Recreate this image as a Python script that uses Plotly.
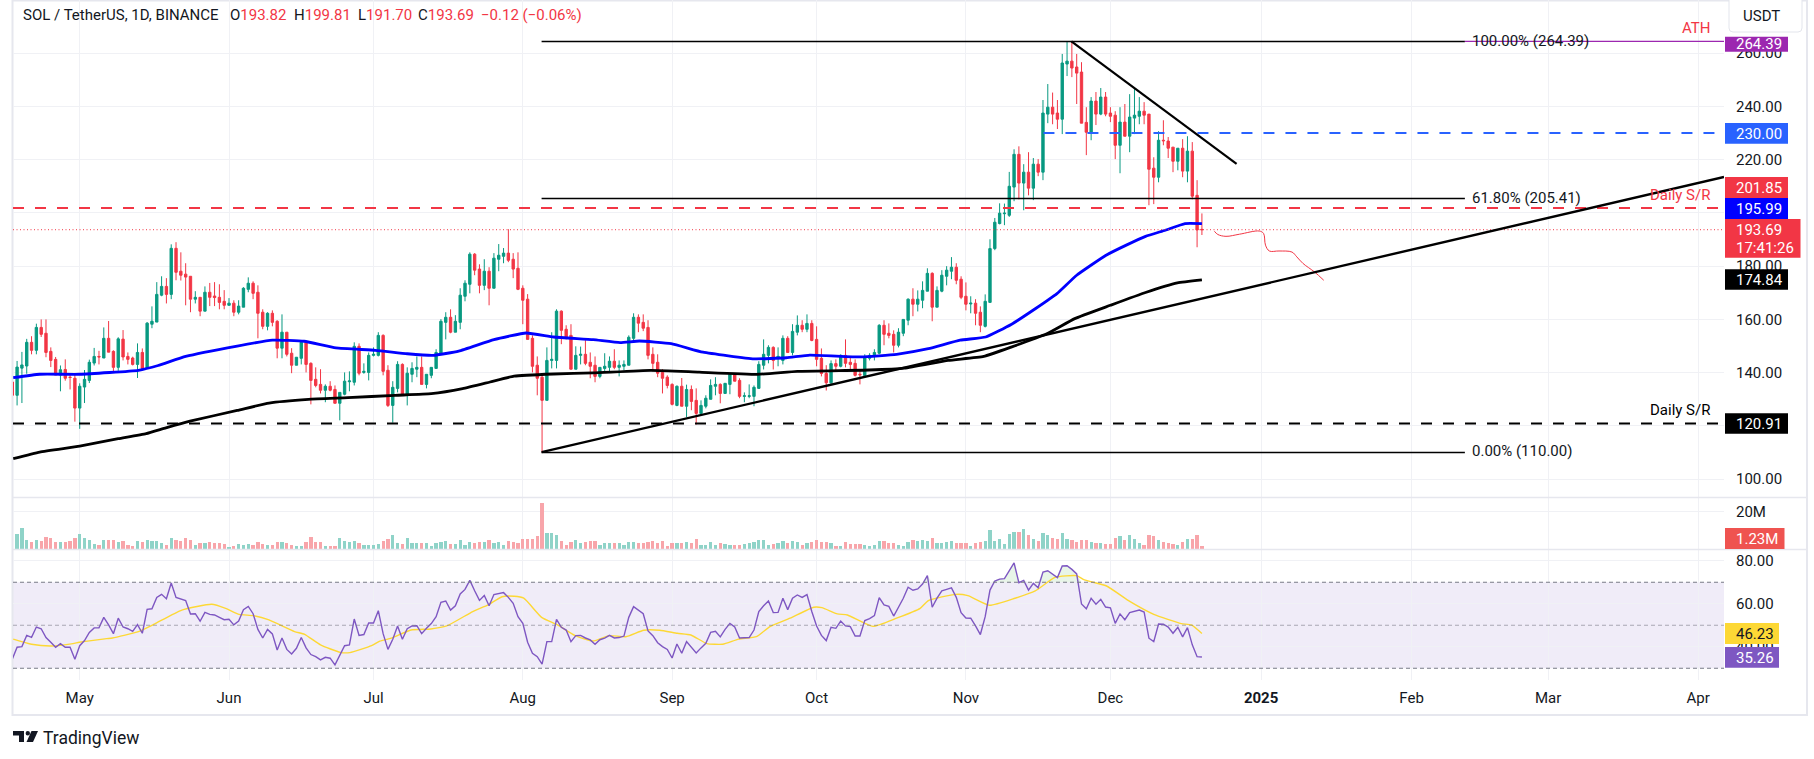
import pandas as pd
import numpy as np
import plotly.graph_objects as go

W, H = 1814, 759
BASE = pd.Timestamp("2024-05-01")
FONT = "Roboto"
INK = "#131722"
RED = "#f23645"
GREEN = "#089981"

first_day = -14
opens = [136.5,
 131.5,141.7,142.5,151.4,148.4,157,154.8,148,145,
 139.1,141.2,138.3,137.9,126.7,134.6,137.1,143.6,146.1,145.5,
 152.9,148,142,152.6,146.1,145.5,143.1,147.6,141.6,158.2,
 159,169.1,172.4,169.4,186.7,178.1,177,176.2,167.6,168.3,
 163.1,170.2,168.8,168.3,166.8,165.3,166.1,162.7,164.6,171.3,
 173.6,170.2,162.7,157.4,162.3,159.3,149.2,155.2,147.3,142.8,
 145.4,151.4,143.5,137.5,135.6,133.4,134.9,133.7,128.5,131.9,
 136.6,136.4,149.9,140.1,140.1,146.5,146.5,154,140.9,127.7,
 134.1,143.1,131.5,139.4,141.3,142,135.6,139,141.6,147.3,
 158.9,160.8,155.2,158.9,168.7,173.2,184.5,178.9,172.8,178.1,
 171.7,182.6,183.7,184.9,182.6,179.2,171.7,167.6,152.9,142.8,
 138.3,129.6,144.6,144.6,163.1,156.3,154,141.3,146.5,146.9,
 143.9,142.8,138.6,141.6,142,144.3,142,142.4,142.8,152.9,
 160.8,158.9,157,146.9,143.9,140.1,138.3,135.6,127.7,134.9,
 127.4,133.7,129.6,124.7,127.4,130,134.9,135.6,132.2,135.6,
 139.4,137.1,131.1,131.1,131.1,134.1,142.8,146.5,149.5,145.8,
 144.6,152.9,147.6,155.2,157.8,156.3,158.5,152.5,145.4,139.7,
 136.2,143.4,142.4,146.5,143.9,143.5,139.4,138.9,145.4,146.1,
 147.3,157.8,154.8,154.4,150.3,154.8,159.7,167.6,165.7,167.2,
 170.6,177.3,164.6,170.6,176.2,178.1,179.6,175.1,168.7,165.8,
 166.1,162.7,157.4,166.4,186.6,196,199.7,199.1,209.7,222,
 211.2,215.3,209.3,218.3,215.3,237.1,239.7,237.5,235.2,255.9,
 257,254.8,252.9,234,230,242,237.1,243.5,237.5,236.7,
 225.4,234.1,228.8,235.6,236.3,238.2,237.1,216.8,213.4,227.3,
 227,224.7,219.4,224.3,215.7,223.2,206.6,193.82]
highs = [136.5,
 144.4,147.8,152.7,153.7,158.4,160,160,149.5,145.9,
 142.7,145,139.7,139.4,136,141,144.9,149.3,148.2,157,
 159.4,148.4,153.3,156,147.6,146,151,149.1,159,164.9,
 174,176.2,175.5,188.2,189,185.2,181.1,176.2,170.6,168.3,
 172.4,173.7,174,173.2,171,168,167.2,167.2,172.1,175.8,
 174.3,172.8,163.8,162.7,163.4,159.7,161.9,155.2,149.2,145.8,
 151.8,151.8,143.9,142,141.3,135.6,136.8,135.2,132.6,140.1,
 140.5,151.4,151,143.5,147.6,149.5,155.2,154.4,142.8,136.8,
 144.3,143.5,142,143.9,146.1,146.1,139.4,142,148.8,160.1,
 162.7,163.8,161.6,171.7,174.7,185.2,184.9,180.7,182.6,179.6,
 184.9,188.3,186.8,193.9,184.9,185.2,172.8,169.5,154,146.1,
 139.4,149.5,155.2,163.8,163.4,157.8,158.2,149.9,149.8,152.2,
 147.6,146.1,142,147.3,146.1,148.8,144.6,144.6,154,162.3,
 161.9,161.9,159.7,149.5,146.9,141.3,139,136,135.2,138,
 135.5,135.2,134.1,129.6,131.5,137.5,138.3,136,136,139.8,
 139.8,137.9,132.6,135.6,135.2,144.3,152.5,150.3,149.9,149.5,
 154,153.7,158.2,161.5,159.7,161.9,159.7,157.4,149.1,142.8,
 144.6,145,146.9,152.5,145.8,145,140.9,146.9,147.3,148.8,
 158.2,159.7,158.5,155.9,156.7,160,167.9,171.7,170.9,174.3,
 179.2,177.7,172.4,178.5,180,183.4,181.1,176.2,173.9,168.7,
 167.6,164.9,169.4,190.1,198.1,203.6,203.5,215.4,223.9,225,
 218.3,222.8,220.6,220.2,242.4,248.4,245.2,242.4,259.7,264.3,
 264.39,259.7,256.6,239.7,243.5,245.4,246.9,245.4,239.7,238.2,
 239.7,240.9,244.6,246.5,243.5,241.6,237.1,220.9,230.7,234.8,
 228.5,224.7,224.3,227.7,228.8,226.6,212.3,199.81]
lows = [131.5,
 127.7,128.6,139.6,146.9,146.9,153.4,145.8,142.1,139.1,
 133,137,133.7,121.6,118.9,128.6,136.1,142.7,143.1,145.5,
 147.7,140.3,140.7,144.6,143.1,142.7,138,141.5,141.4,156.7,
 159,168.7,166,167.6,174.7,174.6,165.3,162.7,166,161.2,
 163.1,165,165,163.8,163.8,165.3,161.2,161.9,164.6,170.2,
 167.6,152.9,156.3,155.9,157.4,145.4,145.4,146.1,139.8,142.8,
 143.1,140.1,128.1,134.5,132.2,128.9,133,128.5,122.1,131.5,
 133,135.2,139,139.6,137.1,146.1,146.1,139,127.1,121.2,
 132.6,131.5,127.7,136.4,138.3,135.6,134.1,137.9,141.6,146.9,
 152.5,154.8,155.2,156.3,166.8,169.8,176.6,169.8,171,165.3,
 171.7,178.1,181.1,181.5,175.5,171,158.2,152.5,140.1,131.5,
 110,129.6,141.6,141.6,150.7,152.5,141.3,141.3,143.1,142.8,
 137.9,136.4,137.9,140.1,140.5,141.3,138.6,140.9,142.8,151.8,
 155.2,155.6,145,140.5,138.3,132.2,134.1,127.7,127.4,127.4,
 123.3,125.9,120.5,124.7,126.6,130,131.5,128.5,132.2,131.9,
 136.8,130.4,128.9,130.4,127.4,134.1,141.2,143.5,141.2,142.4,
 143.1,147.6,146.5,154,155.2,155.2,151.8,142.4,138.6,133.3,
 135.6,140.9,142,142,141.2,138.6,135.6,138.9,144.6,144.6,
 146.9,150.3,152.9,147.6,149.5,153.7,157.8,161.2,163,164.2,
 170.6,159.3,164.6,170.2,172.8,175.1,173.2,167.6,163.4,162.3,
 157.8,155.2,157,166.4,186,195.7,195.4,198.5,204.4,205.1,
 201,206.6,204.8,213.8,212.3,233.7,233.3,231.5,229.6,251.4,
 251,240.9,233.7,221.7,227.3,233,236.7,236.3,234.1,220.2,
 214.9,228.8,222.8,229.6,233.3,233.3,202.9,203.3,211.5,225.4,
 220.6,215.3,216,213.4,211.5,205.1,187.1,191.7]
closes = [131.5,
 142.1,142.9,151.4,148.4,157,154.4,147.6,144.6,139.1,
 141.1,137.9,138.2,126.7,134.9,137.5,143.9,146.1,145.9,152.9,
 147.7,142,152.7,145.9,145,143.1,147.6,141.6,158.6,159.3,
 169.4,172.4,169.4,186.7,177.7,176.6,175.9,167.6,168.3,163.1,
 170.2,168.3,168.2,166.4,165.3,166.1,162.7,165,171.7,173.6,
 169.8,162.3,157.4,162.3,158.9,149.2,155.2,146.9,142.8,145.8,
 151.4,143.1,137.1,135.2,133.4,134.9,133.4,128.5,132.6,136.8,
 136.9,149.9,139.8,140.5,146.5,146.9,154,140.5,127.7,134.5,
 143.1,131.5,139.8,141.6,142,135.6,139.4,142,147.6,159.3,
 160.8,155.2,159.3,169.1,173.6,184.5,178.5,172.8,178.1,171.7,
 183,184.1,184.9,182.2,178.9,171.3,167.2,152.5,142.4,137.9,
 129.6,144.6,145,163.1,155.9,153.3,141.3,146.5,146.9,143.5,
 142.4,138.6,142,142.4,144.3,142,142.8,143.1,153.3,160.8,
 158.6,156.7,146.5,143.5,139.8,137.9,135.2,128.1,134.9,127.4,
 133.7,129.2,124.7,127.7,130.4,135.2,135.6,132.2,136,139.4,
 136.8,131.1,131.3,131.3,134.5,143.1,146.9,149.5,144.6,146.1,
 152.9,147.6,155.5,157.8,156.3,158.5,152.1,145,139.7,136.2,
 143.4,142.4,146.5,143.5,143.1,139,139.2,145.8,146.5,147.6,
 157.8,154.4,154,150.3,155.2,160,167.6,165.7,167.6,170.9,
 177.3,164.6,170.9,176.6,178.5,179.6,174.7,168.3,165.7,166.1,
 162.3,157.8,166.8,186.6,196.5,199.9,199.9,210,222,211.2,
 215.3,209.3,218.3,215.3,237.5,239.7,237.1,235.2,256.3,257,
 254.4,252.5,233.7,230.3,242,237.1,243.5,237.1,236.3,225.4,
 234.1,228.8,236,236.7,238.2,236.7,216.4,213.4,227.3,227.1,
 224.3,219.4,224.3,215.7,223.2,206.3,193.6,193.69]

volume_m = [0,
 8.7,11.9,5.5,4.4,5.3,5,7.1,6.2,4.4,4.4,
 4.1,5,6.5,8.7,6.5,5.5,3.4,2.8,5.5,5.5,
 5.5,4.4,5,2.8,2.3,5,4.4,5.5,5,5,
 3.9,2.8,6.5,5.5,5,6.5,5.5,2.8,3.9,3.9,
 4.4,3.9,3.9,3.4,
 1.8,2.3,3.4,2.8,3.4,2.8,4.4,3.4,2.8,2.8,4.4,4.4,3.9,2.7,2.3,2.3,4.4,7.1,4.4,4.1,2.3,2.3,2.3,
 6.5,5,4.4,5,3.9,2.7,2.7,2.8,3.2,5,6,8.1,3.9,3.4,6.5,3.9,3.5,3.9,3.9,2.3,3.9,4.4,5,3.4,3.4,
 5.5,2.8,4.4,3.9,4.4,4.4,5.5,3.9,4.4,2.8,5,4.4,3.9,6,6,6,7.6,24.8,9.2,9.2,8.1,5,2.8,4.4,5.5,3.9,4.4,5,5,
 2.8,3.5,3.9,3.9,3.5,2.8,4.4,4.4,3.5,3.9,
 4.4,4.6,3.9,5,2.3,3.9,3.9,3.5,4.4,3.5,
 6,2.8,2.8,4.4,2.8,3.9,3.2,2.8,2.5,2.8,
 3.2,3.5,4.4,5.1,5.5,2.8,3.2,3.9,5,3.5,
 5,4.4,2.5,3.5,4.4,5.5,4.4,4.4,3.9,2.3,
 2.3,4.4,3,3,3,2.7,2.3,2.5,5,5,
 3.5,3.5,2.8,2.3,4.1,5.5,5,5.5,5,6.5,
 3.9,3.5,4.4,5,3.9,3.5,3.9,2.3,3.9,4.1,
 5,10.8,5,6,3.4,8.7,9.7,9.7,11.3,8.1,
 6,5,9.2,8.1,6.5,6,9.2,6,5.5,4.4,
 5.5,5.5,4.4,3.5,3.9,3,3.4,6.5,7.6,5.5,
 8.1,6,3.9,2.8,8.1,7.6,5.5,4.4,3.9,3,
 2.8,4.4,6,6,8.1,2.3]

rsi = [34.3,39.8,40.1,45.3,44.4,49.2,48.4,44.3,42.1,39.8,
 41.5,39.8,39.8,34.2,40.5,42.9,46.7,48.8,48.8,53.7,
 50.2,46.1,53.3,49.2,48.4,47.2,50.3,46.3,57.4,57.7,
 63,64.4,62.4,69.7,63,62.1,61.5,55.3,55.4,51.9,
 56,55.1,54.8,53.7,52.6,52.8,50.2,52,57.3,58.8,
 55.4,48.1,44.1,48.1,46,38.5,44.1,38.8,36.7,39.3,
 44.3,39.5,36.4,35.4,33.9,35.1,34.7,31.6,36.2,40.5,
 40.9,52.9,45.3,45.7,51.1,51.1,56.8,46.1,38.8,43.5,
 49.7,43.5,48.4,49.7,49.8,46.1,48.6,50.8,54,60.7,
 61.3,57.1,59.1,64.6,66.7,70.9,66.1,61.6,63.9,59.1,
 64.3,64.8,65.2,63,60.2,54,50.9,42.1,37,35.4,
 31.9,42.4,42.4,52.8,49.1,47.8,42.4,45.2,45.3,44.1,
 43.2,41.2,43.3,44,45.3,44.1,44.3,
 45,53.7,58.7,57.1,55.4,47.4,45.2,41.9,40.1,38.8,
 34.8,41.3,37,42.4,39.8,37.1,39.5,41.6,46.7,47.2,
 44.6,48.1,50.9,49.2,44.1,44.1,44.3,47.8,56.4,59.1,
 61.3,55.9,56,62.6,57.3,62.6,64.1,63,64.3,56.4,
 49.7,45.3,42.9,49.1,48.6,52,49.7,49.4,45,45,
 52.2,53.1,54.5,62.9,59.5,58.8,54.3,58.4,62.6,67.7,
 66.3,66.9,69.2,73.1,58.4,62.6,66,66.7,67.4,63,
 55.9,53.4,53.3,49.7,45.7,54,66.4,70.6,71.5,71.7,
 75.3,79,69.8,70.9,66.4,69.5,67.5,74.8,75.4,73.7,
 72.2,77.6,77.7,76,73.9,59.9,57.7,62.6,59.8,62.1,
 58.5,58.1,50.9,55.3,52.6,55.9,56.5,57.1,56.2,44,
 42.4,50.6,50.5,49.2,46.3,49.1,44.6,48.9,40.9,35.4,35.26]

rsi_ma_day = [-13.8,-10,-5.9,-1.4,-0.1,5.6,6.8,12.2,15.5,21.2,27.4,30.3,33.1,36,39.3,44.6,46.7,50,54.1,56.1,
 60.6,62.3,64.7,68.8,72.9,76.2,81.6,84.8,87.7,90.2,92.2,95.9,99.2,102.9,106.6,109.9,
 113.4,117.1,120.4,124.1,126.9,130.2,133.5,136.8,140.5,143.3,147.5,152.4,154.1,157.3,159.4,164.7,169.6,174.5,176.2,
 181.9,184.4,188.9,194.2,198.4,202.5,207,208.6,213.1,218.1,223,228.7,230.8,233]
rsi_ma = [43.6,41.2,40.4,41.5,42.1,43.8,44.1,47.1,50.6,57.1,59.8,57.9,55.1,54.5,52.5,47.1,45.8,40.9,37.4,37.3,
 40.5,42.6,44,47.8,48.3,49.7,56.4,59.5,63.3,63.5,62.6,53.7,50.2,45.2,42.7,45.2,
 44.7,47.7,47.7,46.3,45.5,41.5,41.2,43.6,44.7,49.4,53.3,58.4,58.2,55.3,54.8,49.5,53.3,57.9,61.5,
 64.4,63.8,59.3,62.6,66,72.3,73.1,71.1,68.4,61,55.1,50.8,50.2,46.23]

ma100_day = [-13.8,-8.3,0,12.2,16.3,22,32.7,40,46.6,53.2,61.4,68,73.4,78.7,86,92.7,98.4,106.6,112.2,116.2,122.8,129.4,140,146.7,
 151.6,162.2,169.6,176.2,182.8,188.1,193.4,198.4,202.9,207,213.1,217.3,221.3,225.4,229.5,233]
ma100 = [138.1,139.4,139.4,140.9,142.7,146.1,150,152.2,151.8,149.3,148.4,147.1,146.5,148.1,152.4,154.9,153.4,152.4,151.3,151.9,150.9,147.7,145.2,145.6,
 146.6,145.9,146.9,149,152.2,153.4,158.1,164,169.7,176.6,184.1,187.9,191.2,193.5,196,195.99]

ma200_day = [-13.8,-8.3,0,8,13.8,17.9,22.9,32.7,39.3,47.5,55.7,65.5,73,79.5,85.2,90.2,98.4,106.6,118.6,128.6,140.8,149,163.9,171.2,180.3,187.7,
 193.4,200.8,206.6,214,221.3,227.9,233]
ma200 = [107.7,110.2,112.4,115.2,117.1,119.3,121.8,125.8,128.6,130,130.6,131.5,132.1,134,136.5,138.7,139.5,139.9,140.9,140.2,139.4,140.5,141,141.7,144.6,146.1,
 149.6,154.6,160.3,165.3,170.1,173.7,174.84]

sketch_day = [235.6,236.3,238,240.8,244.9,245.8,246.2,247,249,251.7,252.7,254,256.4,258.3]
sketch_val = [193.1,191.9,191.2,192,193.2,192.3,187.9,185.7,185.7,185.3,183.5,181,177.8,174.7]

fib_levels = [264.39, 205.41, 110.0]
fib_texts = ["100.00% (264.39)", "61.80% (205.41)", "0.00% (110.00)"]
price_ticks = [100, 120, 140, 160, 180, 200, 220, 240, 260]
rsi_ticks = [40, 60, 80]
month_ticks = ["2024-05-01", "2024-06-01", "2024-07-01", "2024-08-01", "2024-09-01", "2024-10-01",
               "2024-11-01", "2024-12-01", "2025-01-01 07:00", "2025-02-01 13:00", "2025-03-01 21:00", "2025-04-02 01:00"]
month_text = ["May", "Jun", "Jul", "Aug", "Sep", "Oct", "Nov", "Dec", "<b>2025</b>", "Feb", "Mar", "Apr"]

assert len(opens) == len(highs) == len(lows) == len(closes) == len(volume_m) == len(rsi) == 248, \
    (len(opens), len(highs), len(lows), len(closes), len(volume_m), len(rsi))


def when(d):
    return BASE + pd.Timedelta(days=float(d))


def stamps(ds):
    return [when(d) for d in ds]


def fx(px):
    return px / W


def fy(py):
    return 1 - py / H


days = list(range(first_day, first_day + len(opens)))
dates = stamps(days)

fig = go.Figure()
fig.add_trace(go.Candlestick(x=dates, open=opens, high=highs, low=lows, close=closes,
                             increasing=dict(line=dict(color=GREEN, width=1), fillcolor=GREEN),
                             decreasing=dict(line=dict(color=RED, width=1), fillcolor=RED),
                             whiskerwidth=0, showlegend=False, hoverinfo="skip"))
fig.add_trace(go.Scatter(x=stamps(ma200_day), y=ma200, mode="lines", line=dict(color="#000000", width=2.8, shape="spline", smoothing=0.4), hoverinfo="skip"))
fig.add_trace(go.Scatter(x=stamps(ma100_day), y=ma100, mode="lines", line=dict(color="#0000ff", width=2.8, shape="spline", smoothing=0.4), hoverinfo="skip"))
fig.add_trace(go.Scatter(x=stamps(sketch_day), y=sketch_val, mode="lines", line=dict(color=RED, width=1, shape="spline"), hoverinfo="skip"))

vol_colors = ["#8fd3c8" if c >= o else "#f8a5aa" for o, c in zip(opens, closes)]
fig.add_trace(go.Bar(x=dates, y=volume_m, yaxis="y2", marker=dict(color=vol_colors, line_width=0),
                     width=0.68 * 86400000, hoverinfo="skip"))

over = [max(v, 70) for v in rsi]
fig.add_trace(go.Scatter(x=dates, y=[70] * len(rsi), yaxis="y3", mode="lines", line=dict(width=0), hoverinfo="skip"))
fig.add_trace(go.Scatter(x=dates, y=over, yaxis="y3", mode="lines", line=dict(width=0), fill="tonexty",
                         fillcolor="rgba(76,175,80,0.13)", hoverinfo="skip"))
fig.add_trace(go.Scatter(x=stamps(rsi_ma_day), y=rsi_ma, yaxis="y3", mode="lines", line=dict(color="#fdd835", width=1.4, shape="spline", smoothing=0.5), hoverinfo="skip"))
fig.add_trace(go.Scatter(x=dates, y=rsi, yaxis="y3", mode="lines", line=dict(color="#7e57c2", width=1.4), hoverinfo="skip"))

shapes = []


def hline(y, yref, x0, x1, color, width, dash="solid", xref="paper"):
    shapes.append(dict(type="line", xref=xref, yref=yref, x0=x0, x1=x1, y0=y, y1=y,
                       line=dict(color=color, width=width, dash=dash)))


def box(x0, y0, x1, y1, color, line=None):
    shapes.append(dict(type="rect", xref="paper", yref="paper", x0=fx(x0), x1=fx(x1), y0=fy(y0), y1=fy(y1),
                       fillcolor=color, line=dict(width=0) if line is None else dict(color=line, width=1), layer="above"))


FRAME = "#e6e7ee"
shapes.append(dict(type="rect", xref="paper", yref="y3", x0=fx(13), x1=fx(1724), y0=30, y1=70,
                   fillcolor="rgba(126,87,194,0.115)", line_width=0, layer="below"))
hline(70, "y3", fx(13), fx(1724), "#787b86", 1.1, "4px,3px")
hline(50, "y3", fx(13), fx(1724), "rgba(120,123,134,0.6)", 1.1, "4px,3px")
hline(30, "y3", fx(13), fx(1724), "#787b86", 1.1, "4px,3px")

fib_start, fib_end = when(95.9), when(287.6)
for lv in fib_levels:
    hline(lv, "y", fib_start, fib_end, "#000000", 1.4, xref="x")
hline(264.39, "y", fib_end, when(341.4), "#9c27b0", 1.3, xref="x")
hline(201.85, "y", fx(13), fx(1722), RED, 2, "11px,11px")
hline(120.91, "y", fx(13), fx(1722), "#000000", 2, "11px,11px")
hline(230.0, "y", when(200.1), when(341.0), "#2962ff", 2, "11px,11px", xref="x")
hline(193.69, "y", fx(13), fx(1724), RED, 1, "1px,2.5px")
shapes.append(dict(type="line", xref="x", yref="y", x0=when(205.9), x1=when(240.2), y0=264.39, y1=218.4,
                   line=dict(color="#000000", width=2.2)))
shapes.append(dict(type="line", xref="x", yref="y", x0=when(95.9), x1=when(341.4), y0=110.15, y1=213.5,
                   line=dict(color="#000000", width=2.4)))

# pane frame and separators
shapes.append(dict(type="rect", xref="paper", yref="paper", x0=fx(12.5), x1=fx(1807), y0=fy(0.5), y1=fy(715),
                   line=dict(color=FRAME, width=2), layer="below"))
for sep in (497.5, 549.5):
    shapes.append(dict(type="line", xref="paper", yref="paper", x0=fx(13), x1=fx(1807), y0=fy(sep), y1=fy(sep),
                       line=dict(color=FRAME, width=1.6)))

# price-scale labels
labels = [
    ("264.39", 36.7, 51.7, 1788, "#9c27b0", "#ffffff"),
    ("230.00", 123, 143.7, 1788, "#2962ff", "#ffffff"),
    ("201.85", 177, 198, 1788, RED, "#ffffff"),
    ("195.99", 198, 219, 1788, "#0000ff", "#ffffff"),
    ("174.84", 269.3, 289.7, 1788, "#000000", "#ffffff"),
    ("120.91", 413.3, 433.7, 1788, "#000000", "#ffffff"),
    ("1.23M", 528, 549, 1784.5, "#ef5350", "#ffffff"),
    ("46.23", 623, 644, 1779, "#fdd835", "#131722"),
    ("35.26", 647, 667.7, 1779, "#7e57c2", "#ffffff"),
]
ann = []


def text(px, py, s, color=INK, size=15, anchor="left", vanchor="middle", bold=False):
    ann.append(dict(xref="paper", yref="paper", x=fx(px), y=fy(py), text=f"<b>{s}</b>" if bold else s,
                    showarrow=False, xanchor=anchor, yanchor=vanchor, borderpad=0,
                    font=dict(family=FONT, size=size, color=color)))


for s, y0, y1, x1, col, tc in labels:
    box(1725, y0, x1, y1, col)
    text(1735, (y0 + y1) / 2 + 0.3, s, tc)
box(1725, 219, 1800.5, 257.7, RED)
text(1735, 230, "193.69", "#ffffff")
text(1735, 248, "17:41:26", "#ffffff")

# USDT button
shapes.append(dict(type="path", xref="paper", yref="paper",
                   path=f"M {fx(1729)},{fy(-2)} L {fx(1802)},{fy(-2)} L {fx(1802)},{fy(28)} Q {fx(1802)},{fy(32)} {fx(1798)},{fy(32)} "
                        f"L {fx(1733)},{fy(32)} Q {fx(1729)},{fy(32)} {fx(1729)},{fy(28)} Z",
                   fillcolor="#ffffff", line=dict(color="#e3e5ec", width=1)))
text(1761, 16, "USDT", INK, 15, anchor="center")

# header
text(22, 15, "SOL / TetherUS, 1D, BINANCE")
for px, letter, val in [(229, "O", "193.82"), (293, "H", "199.81"), (357, "L", "191.70"), (417, "C", "193.69")]:
    text(px, 15, f'{letter}<span style="color:{RED}">{val}</span>')
text(480, 15, "−0.12 (−0.06%)", RED)

for lv, s, py in zip(fib_levels, fib_texts, (41, 198, 451)):
    text(1471, py, s)
text(1712, 28, "ATH", RED, anchor="right")
text(1711, 195, "Daily S/R", RED, anchor="right")
text(1711, 410, "Daily S/R", "#000000", anchor="right")

# logo
logo = "#131722"
shapes.append(dict(type="path", xref="paper", yref="paper", fillcolor=logo, line_width=0,
                   path=f"M {fx(13)},{fy(731)} L {fx(24)},{fy(731)} L {fx(24)},{fy(742)} L {fx(19)},{fy(742)} L {fx(19)},{fy(735.5)} L {fx(13)},{fy(735.5)} Z"))
shapes.append(dict(type="path", xref="paper", yref="paper", fillcolor=logo, line_width=0,
                   path=f"M {fx(31.5)},{fy(731)} L {fx(38)},{fy(731)} L {fx(33)},{fy(742)} L {fx(26.5)},{fy(742)} Z"))
shapes.append(dict(type="circle", xref="paper", yref="paper", fillcolor=logo, line_width=0,
                   x0=fx(25.6), x1=fx(30), y0=fy(735.4), y1=fy(731)))
text(41.5, 737.5, "TradingView", INK, 17.5)

GRID = "#f0f1f5"
axis_font = dict(family=FONT, size=15, color=INK)
fig.update_layout(
    width=W, height=H, autosize=False, margin=dict(l=0, r=0, t=0, b=0),
    paper_bgcolor="#ffffff", plot_bgcolor="#ffffff", showlegend=False, bargap=0,
    font=dict(family=FONT, color=INK), shapes=shapes, annotations=ann,
    xaxis=dict(domain=[fx(13), fx(1724)], range=[when(-13.85), when(341.4)], type="date", anchor="y3",
               tickmode="array", tickvals=month_ticks, ticktext=month_text, ticklen=0, tickfont=axis_font,
               ticklabelstandoff=7, tickangle=0, showgrid=True, gridcolor=GRID, gridwidth=1, showline=False, zeroline=False,
               rangeslider=dict(visible=False)),
    yaxis=dict(domain=[fy(497.5), 1], range=[93.12, 279.96], side="right", anchor="x", tickmode="array",
               tickvals=price_ticks, tickformat=".2f", ticklen=0, ticklabelstandoff=11, tickfont=axis_font,
               gridcolor=GRID, gridwidth=1, zeroline=False, showline=False),
    yaxis2=dict(domain=[fy(549.5), fy(497.5)], range=[0, 27.6], side="right", anchor="x", tickmode="array",
                tickvals=[20], ticktext=["20M"], ticklen=0, ticklabelstandoff=11, tickfont=axis_font,
                gridcolor=GRID, gridwidth=1, zeroline=False, showline=False),
    yaxis3=dict(domain=[fy(680), fy(549.5)], range=[24.56, 85.26], side="right", anchor="x", tickmode="array",
                tickvals=rsi_ticks, tickformat=".2f", ticklen=0, ticklabelstandoff=11, tickfont=axis_font,
                gridcolor=GRID, gridwidth=1, zeroline=False, showline=False),
)

fig.write_html("out.html", config={"displayModeBar": False},
               post_script="document.body.style.margin='0';document.body.style.overflow='hidden';")
